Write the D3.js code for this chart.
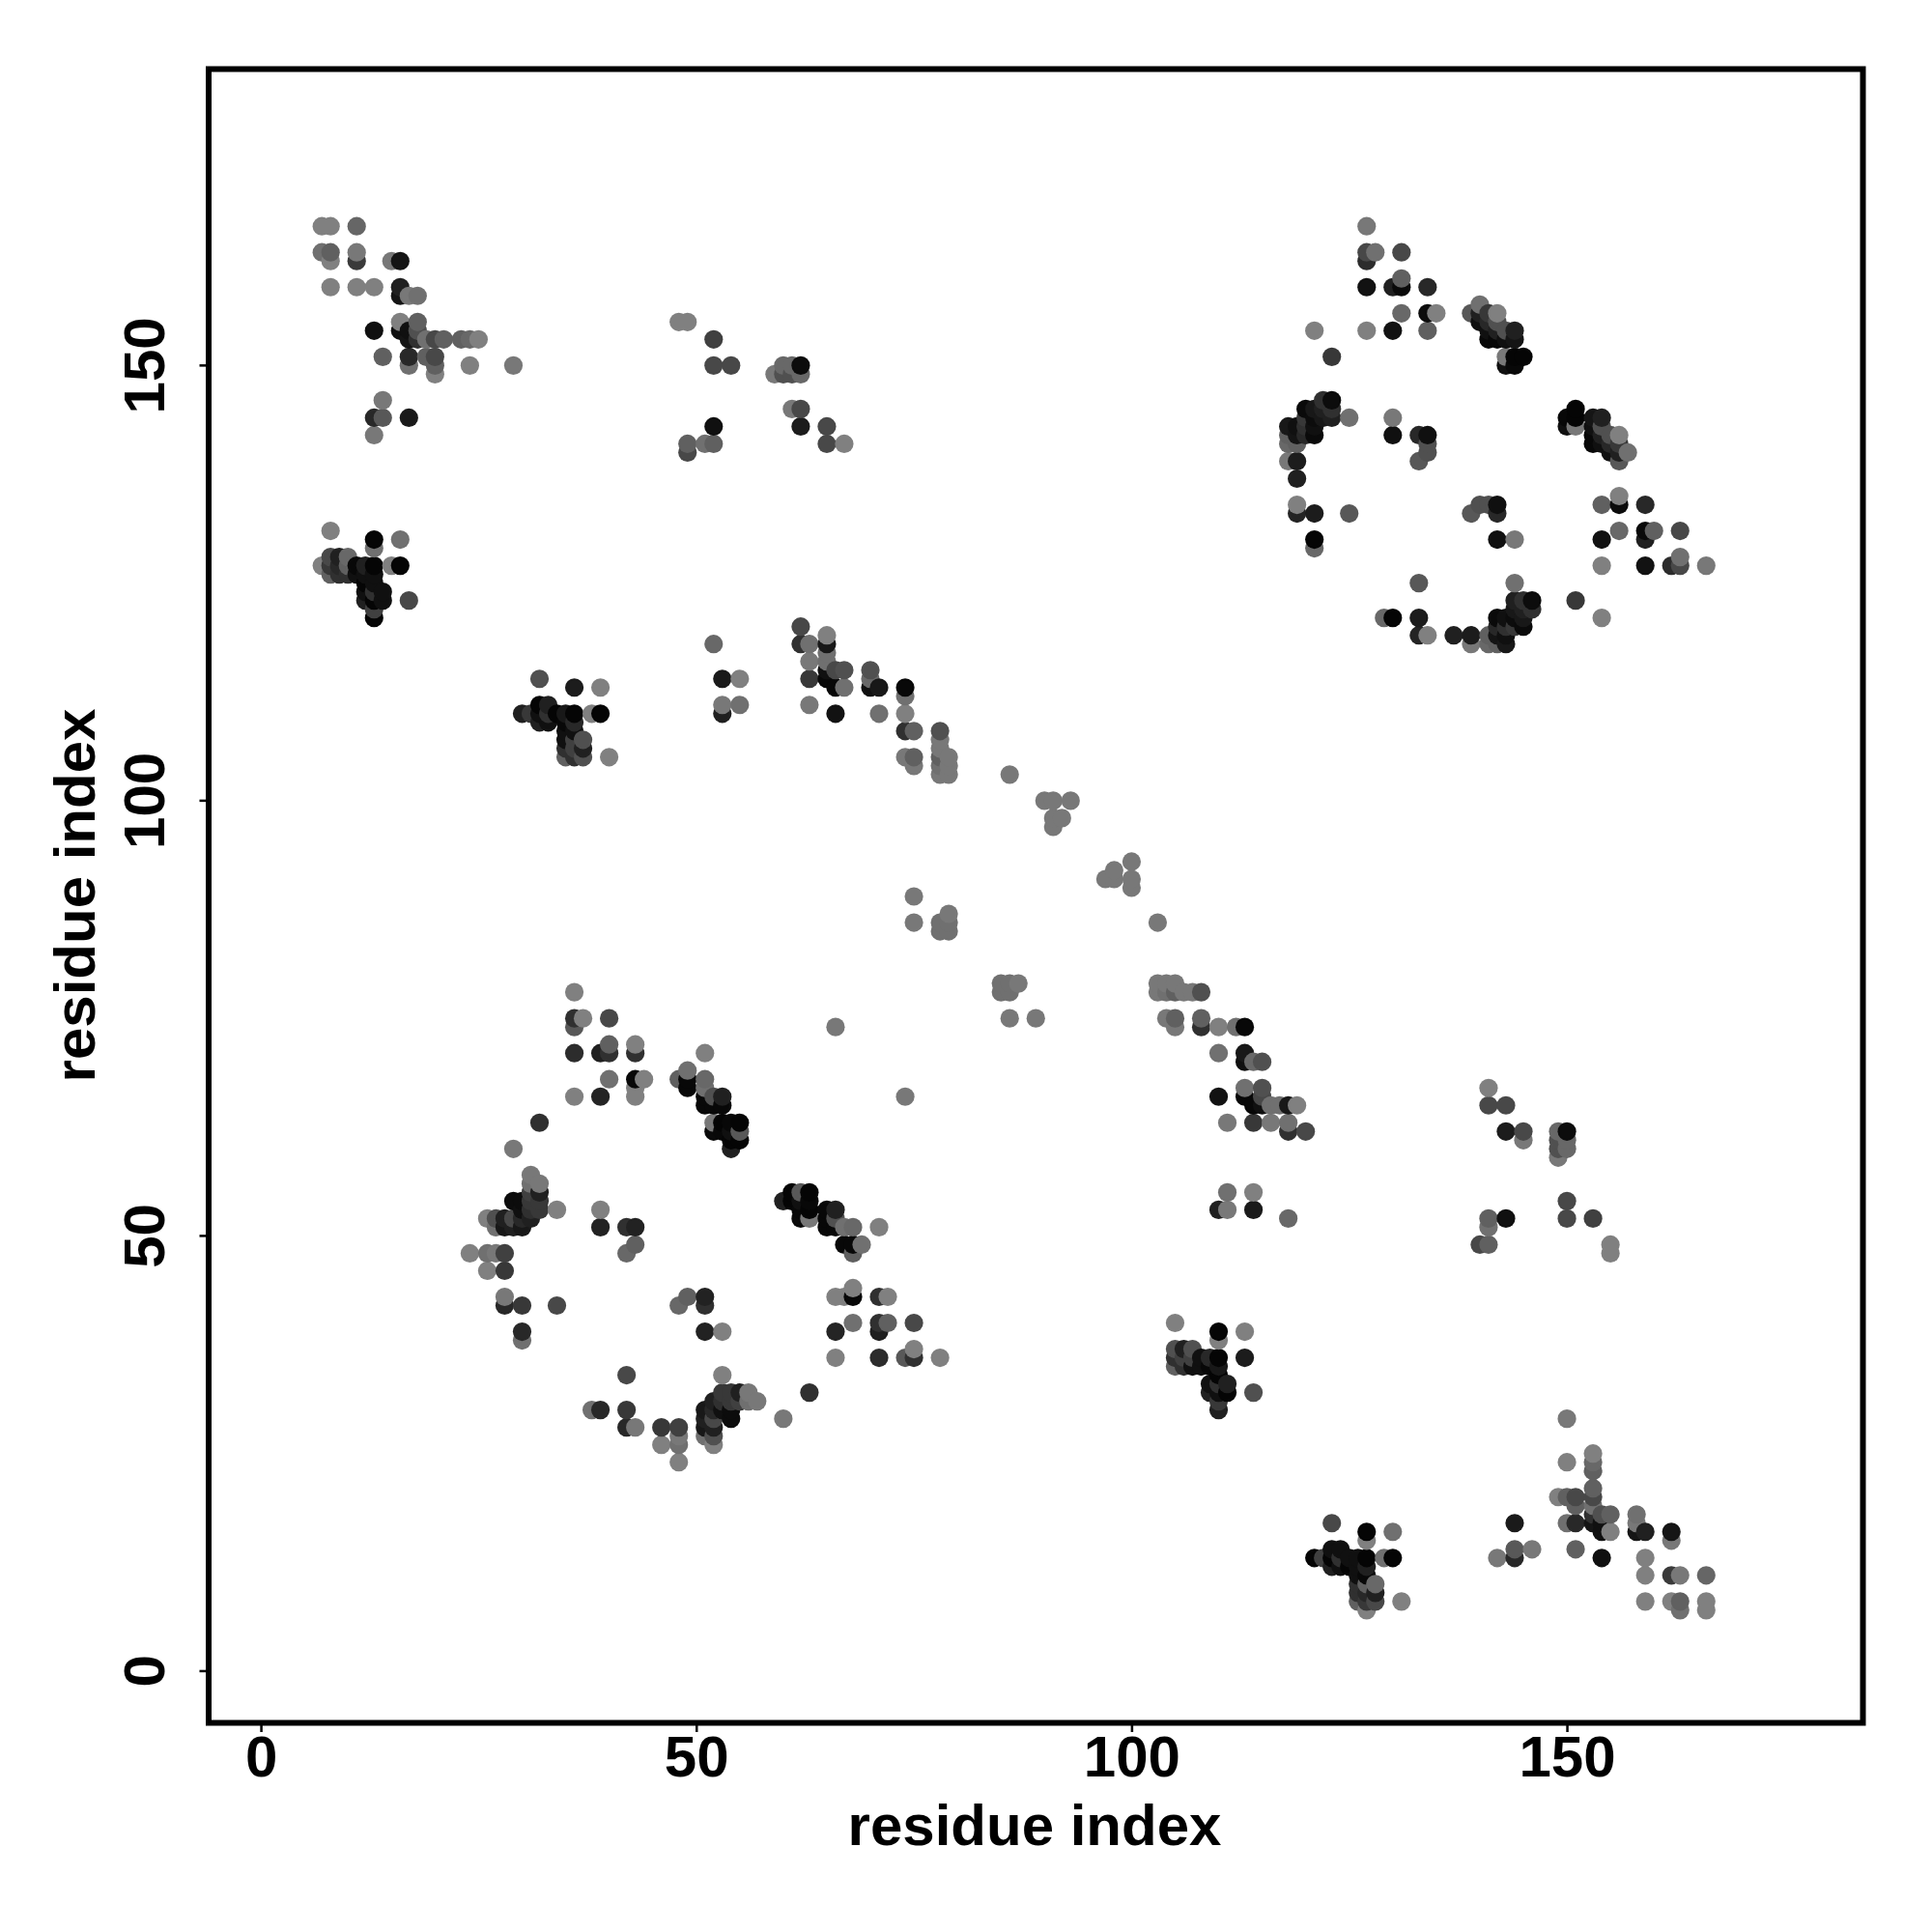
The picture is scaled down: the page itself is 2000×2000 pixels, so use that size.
<!DOCTYPE html>
<html><head><meta charset="utf-8">
<script src="https://cdn.jsdelivr.net/npm/d3@7/dist/d3.min.js"></script>
<style>html,body{margin:0;padding:0;background:#fff}svg{display:block}text{font-family:"Liberation Sans",Arial,sans-serif;font-weight:700;fill:#000}</style>
</head><body><script>
// each entry: [residue i, residue j, grey level of the contact]; the map is symmetric, so (j,i) is added in code
const contactsTopLeft = [[7,166,128],[8,166,128],[11,166,102],[7,163,112],[8,163,96],[8,162,128],[11,163,120],[11,162,58],[15,162,120],[16,162,21],[8,159,128],[11,159,128],[13,159,128],[16,159,32],[16,158,21],[17,158,120],[18,158,112],[16,155,128],[18,155,96],[13,154,16],[16,154,16],[17,154,16],[18,154,80],[17,153,21],[18,153,48],[19,153,112],[20,153,72],[21,153,96],[23,153,96],[24,153,104],[25,153,128],[14,151,96],[17,151,40],[19,151,96],[20,151,72],[17,150,112],[20,150,96],[24,150,128],[29,150,120],[20,149,128],[14,146,120],[13,144,40],[14,144,88],[17,144,26],[13,142,120]];
const contactsCluster1 = [[8,131,128],[13,130,5],[16,130,112],[13,129,112],[8,128,72],[9,128,32],[10,128,104],[7,127,128],[8,127,56],[9,127,40],[10,127,96],[11,127,8],[12,127,32],[13,127,5],[15,127,128],[16,127,5],[8,126,96],[9,126,48],[10,126,48],[11,126,16],[12,126,16],[13,126,16],[12,125,5],[13,125,16],[12,124,16],[13,124,48],[14,124,16],[12,123,32],[13,123,5],[14,123,16],[17,123,72],[13,122,64],[13,121,5]];
const contactsCluster2 = [[32,114,80],[36,113,28],[39,113,128],[30,110,32],[31,110,56],[32,111,5],[33,111,32],[32,110,16],[33,110,48],[34,110,5],[35,110,24],[36,110,5],[38,110,128],[39,110,5],[32,109,32],[33,109,16],[35,109,8],[36,109,40],[35,108,16],[36,108,16],[35,107,16],[36,107,64],[37,107,80],[35,106,48],[36,106,64],[37,106,32],[35,105,96],[36,105,48],[37,105,80],[40,105,128]];
const contactsUpperMid = [[48,155,128],[49,155,128],[52,153,64],[52,150,72],[54,150,72],[59,149,120],[60,150,104],[60,149,80],[61,150,104],[61,149,80],[62,150,12],[62,149,104],[61,145,120],[62,145,72],[62,143,28],[65,143,72],[65,141,72],[67,141,128],[52,143,16],[49,141,96],[49,140,72],[51,141,112],[52,141,96]];
const contactsBand = [[52,118,104],[53,114,26],[55,114,128],[53,111,120],[53,110,32],[55,111,112],[62,120,72],[62,118,48],[63,118,112],[63,116,120],[63,114,56],[63,111,120],[65,119,128],[65,118,24],[65,117,112],[65,116,112],[65,115,16],[65,114,8],[66,115,72],[67,115,80],[66,113,8],[67,113,112],[66,110,18],[70,115,80],[70,114,104],[70,113,16],[71,113,24],[71,110,112],[74,113,8],[74,112,112],[74,110,128],[74,108,48],[75,108,96],[74,105,120],[75,105,96],[75,104,120],[78,108,80],[78,107,120],[78,106,120],[78,105,96],[78,104,112],[78,103,120],[79,105,120],[79,104,120],[79,103,120]];
const contactsDiagonal = [[86,103,120],[90,100,120],[91,100,120],[93,100,120],[91,98,120],[92,98,120],[91,97,120],[75,89,120],[75,86,120],[78,86,112],[79,87,120],[79,86,112],[78,85,112],[79,85,112],[66,74,120]];
const contactsUpperRing = [[127,166,120],[127,163,72],[128,163,112],[127,162,44],[131,163,72],[127,159,18],[130,159,32],[131,159,10],[131,160,96],[134,159,40],[131,156,104],[134,156,12],[135,156,128],[121,154,128],[127,154,128],[130,154,18],[134,154,96],[123,151,56],[125,144,112],[130,144,120],[130,142,16],[133,142,40],[134,142,16],[134,141,80],[134,140,80],[133,139,88]];
const contactsRingCorner = [[123,146,12],[122,146,48],[123,145,48],[120,145,10],[121,145,24],[122,145,32],[123,144,32],[121,144,12],[122,144,24],[120,144,56],[118,143,24],[119,143,16],[120,143,48],[121,143,16],[118,142,96],[119,142,20],[120,142,40],[121,142,10],[118,141,104],[119,141,96],[118,139,120],[119,139,28],[119,137,32],[119,134,128],[119,133,36],[121,133,28],[125,133,88],[121,130,5],[121,129,104]];
const contactsRingEdge = [[151,145,5],[150,144,8],[150,143,16],[151,144,5],[151,143,120],[153,144,21],[154,144,32],[153,143,16],[154,143,80],[153,142,8],[154,142,32],[155,142,80],[156,142,128],[153,141,8],[154,141,16],[155,141,40],[156,141,56],[155,140,16],[156,140,32],[157,140,112],[156,139,88]];
const contactsLowerRing = [[36,78,128],[36,75,48],[36,74,88],[37,75,128],[40,75,72],[36,71,44],[39,71,32],[40,72,96],[40,71,48],[43,72,128],[43,71,48],[40,68,112],[43,68,8],[44,68,128],[43,67,128],[43,66,128],[36,66,128],[39,66,36],[51,71,128],[48,68,96],[49,69,112],[49,68,8],[49,67,8],[51,68,104],[51,67,112],[51,66,8],[51,65,8],[52,66,80],[53,66,32],[52,65,8],[53,65,8],[52,63,120],[52,62,10],[53,63,5],[54,63,8],[55,63,5],[53,62,8],[54,62,16],[55,62,88],[54,61,5],[55,61,5],[54,60,32],[32,63,48]];
const contactsRingWest = [[29,60,120],[31,57,120],[32,56,120],[31,56,112],[32,55,32],[31,55,64],[29,54,12],[30,54,12],[31,54,56],[32,54,56],[30,53,16],[31,53,48],[32,53,56],[34,53,128],[39,53,128],[26,52,128],[27,52,80],[28,52,32],[29,52,72],[30,52,40],[31,52,32],[27,51,112],[28,51,24],[29,51,32],[30,51,24],[39,51,34],[42,51,48],[43,51,34],[43,49,96],[42,48,104],[24,48,128],[26,48,112],[27,48,120],[28,48,64],[26,46,128],[28,46,56],[28,43,120],[28,42,40],[30,42,56],[34,42,72],[30,39,40],[30,38,112]];
const xTicks = [0,50,100,150];
const yTicks = [0,50,100,150];
const axisLabel = "residue index";

const halfMap = [contactsTopLeft,contactsCluster1,contactsCluster2,contactsUpperMid,contactsBand,contactsDiagonal,contactsUpperRing,contactsRingCorner,contactsRingEdge,contactsLowerRing,contactsRingWest].flat();
const seen = new Map();
for (const [i,j,g] of halfMap) {
  if (!seen.has(i+","+j)) seen.set(i+","+j,{x:i,y:j,g});
  if (!seen.has(j+","+i)) seen.set(j+","+i,{x:j,y:i,g});
}
const points = d3.sort([...seen.values()], d=>d.x, d=>d.y);

const svg = d3.select("body").append("svg").attr("width",2000).attr("height",2000);
const x = d3.scaleLinear().domain([-6,184]).range([216,1928.5]);
const y = d3.scaleLinear().domain([-6,184]).range([1783.5,71.5]);
const grey = d3.scaleLinear().domain([0,255]).range(["#000","#fff"]);

svg.append("g").selectAll("circle").data(points).join("circle")
  .attr("cx",d=>x(d.x)).attr("cy",d=>y(d.y)+0.5).attr("r",9.6).attr("fill",d=>grey(d.g));

svg.append("rect").attr("x",216).attr("y",71.5).attr("width",1712.5).attr("height",1712)
  .attr("fill","none").attr("stroke","#000").attr("stroke-width",6);

const gx = svg.append("g").attr("transform","translate(0,1783.5)")
  .call(d3.axisBottom(x).tickValues(xTicks).tickSize(9.5).tickPadding(8));
const gy = svg.append("g").attr("transform","translate(216,0)")
  .call(d3.axisLeft(y).tickValues(yTicks).tickSize(9.5));
for (const g of [gx,gy]) {
  g.select(".domain").remove();
  g.selectAll("line").attr("stroke","#000").attr("stroke-width",2.5);
  g.selectAll("text").style("font-size","60px");
}
gx.selectAll("text").attr("y",null).attr("dy",null).attr("text-anchor","middle").attr("y",55);
gy.selectAll("text").attr("x",null).attr("dy",null).attr("text-anchor","middle")
  .attr("transform","translate(-46,0) rotate(-90)");

svg.append("text").attr("x",1071).attr("y",1910).attr("text-anchor","middle").style("font-size","60px").text(axisLabel);
svg.append("text").attr("transform","translate(98,927) rotate(-90)").attr("text-anchor","middle").style("font-size","60px").text(axisLabel);
</script></body></html>
